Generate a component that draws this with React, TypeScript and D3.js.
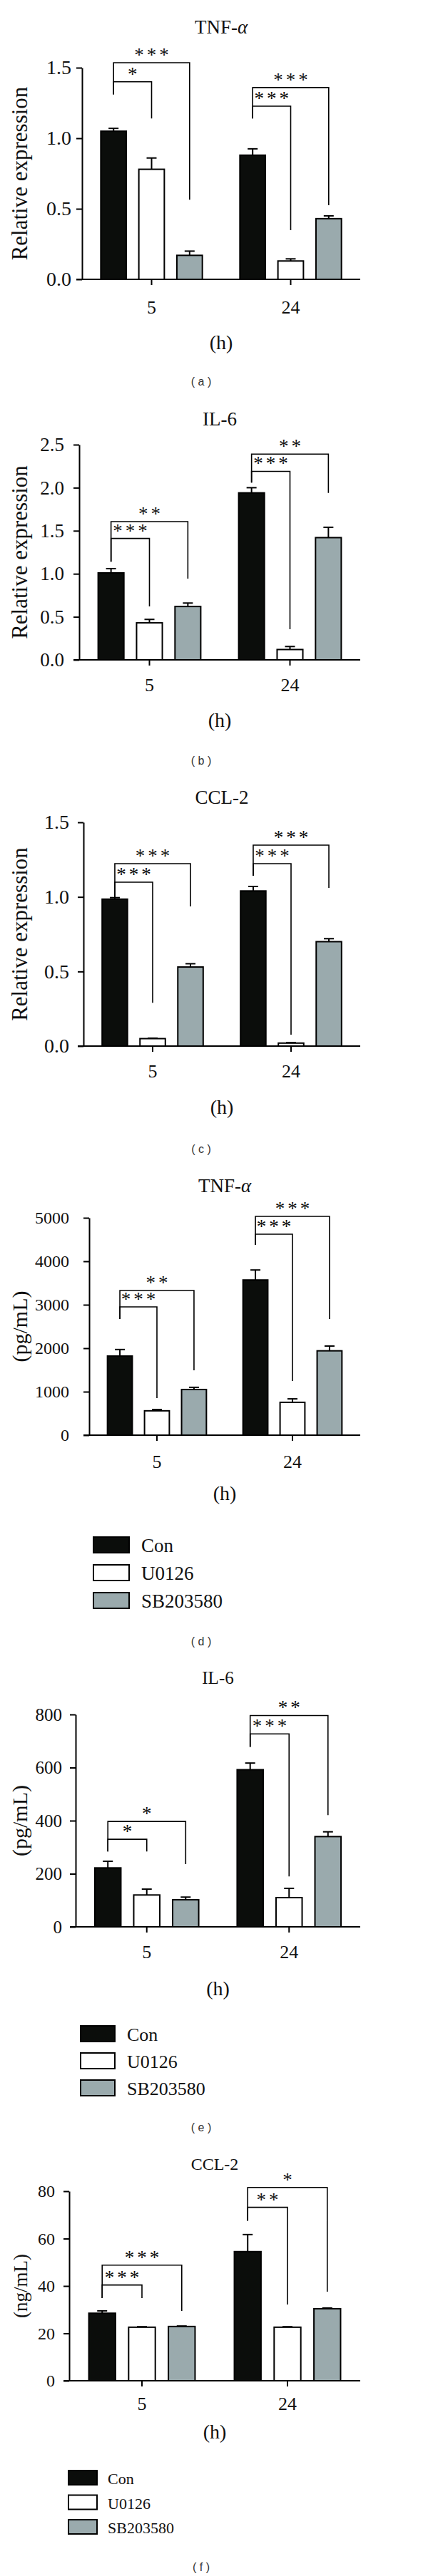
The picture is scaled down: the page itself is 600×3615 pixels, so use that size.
import React, { useEffect, useRef } from "react";
import * as d3 from "d3";

// shared categories
const groups = ["5", "24"];
const seriesNames = ["Con", "U0126", "SB203580"];
const seriesFill = ["#0b0d0b", "#ffffff", "#9aaaad"];

// (a) TNF-α relative expression, rows = 5 h, 24 h; cols = Con, U0126, SB203580
const tnfRelMean = [[1.05, 0.78, 0.17], [0.88, 0.13, 0.43]];
const tnfRelErr = [[0.02, 0.08, 0.03], [0.045, 0.015, 0.02]];
const tnfRelSig = [
  { group: 0, to: 1, top: 1.4, left: 1.31, right: 1.14, label: "*" },
  { group: 0, to: 2, top: 1.535, left: 1.31, right: 0.565, label: "***" },
  { group: 1, to: 1, top: 1.227, left: 1.14, right: 0.348, label: "***" },
  { group: 1, to: 2, top: 1.359, left: 1.14, right: 0.525, label: "***" },
];

// (b) IL-6 relative expression
const il6RelMean = [[1.01, 0.43, 0.62], [1.94, 0.12, 1.42]];
const il6RelErr = [[0.05, 0.04, 0.04], [0.06, 0.035, 0.12]];
const il6RelSig = [
  { group: 0, to: 1, top: 1.41, left: 1.14, right: 0.62, label: "***" },
  { group: 0, to: 2, top: 1.606, left: 1.14, right: 0.944, label: "**" },
  { group: 1, to: 1, top: 2.19, left: 2.06, right: 0.356, label: "***" },
  { group: 1, to: 2, top: 2.39, left: 2.06, right: 1.94, label: "**" },
];

// (c) CCL-2 relative expression
const ccl2RelMean = [[0.985, 0.05, 0.53], [1.04, 0.02, 0.7]];
const ccl2RelErr = [[0.01, 0.003, 0.022], [0.03, 0.003, 0.02]];
const ccl2RelSig = [
  { group: 0, to: 1, top: 1.099, left: 0.998, right: 0.29, label: "***" },
  { group: 0, to: 2, top: 1.223, left: 0.998, right: 0.936, label: "***" },
  { group: 1, to: 1, top: 1.223, left: 1.142, right: 0.076, label: "***" },
  { group: 1, to: 2, top: 1.347, left: 1.142, right: 1.06, label: "***" },
];

// (d) TNF-α protein, pg/mL
const tnfProtMean = [[1820, 560, 1050], [3570, 755, 1940]];
const tnfProtErr = [[150, 30, 50], [230, 80, 110]];
const tnfProtSig = [
  { group: 0, to: 1, top: 2950, left: 2672, right: 852, label: "***" },
  { group: 0, to: 2, top: 3327, left: 2672, right: 1492, label: "**" },
  { group: 1, to: 1, top: 4622, left: 4376, right: 1246, label: "***" },
  { group: 1, to: 2, top: 5032, left: 4376, right: 2672, label: "***" },
];

// (e) IL-6 protein, pg/mL
const il6ProtMean = [[222, 120, 102], [592, 110, 340]];
const il6ProtErr = [[25, 22, 10], [25, 35, 18]];
const il6ProtSig = [
  { group: 0, to: 1, top: 330, left: 284, right: 284, label: "*" },
  { group: 0, to: 2, top: 397, left: 284, right: 236, label: "*" },
  { group: 1, to: 1, top: 727, left: 678, right: 190, label: "***" },
  { group: 1, to: 2, top: 796, left: 678, right: 421, label: "**" },
];

// (f) CCL-2 protein, ng/mL
const ccl2ProtMean = [[28.5, 22.6, 22.9], [54.5, 22.6, 30.4]];
const ccl2ProtErr = [[1, 0.2, 0.2], [7.2, 0.2, 0.3]];
const ccl2ProtSig = [
  { group: 0, to: 1, top: 40.4, left: 34.9, right: 34.9, label: "***" },
  { group: 0, to: 2, top: 48.8, left: 34.9, right: 29.5, label: "***" },
  { group: 1, to: 1, top: 73.2, left: 67.5, right: 32.2, label: "**" },
  { group: 1, to: 2, top: 81.6, left: 67.5, right: 37.6, label: "*" },
];

const relTicks = [0, 0.5, 1, 1.5];
const il6RelTicks = [0, 0.5, 1, 1.5, 2, 2.5];
const tnfProtTicks = [0, 1000, 2000, 3000, 4000, 5000];
const il6ProtTicks = [0, 200, 400, 600, 800];
const ccl2ProtTicks = [0, 20, 40, 60, 80];

const serif = "'Liberation Serif', 'Times New Roman', serif";
const sans = "'Liberation Sans', Arial, sans-serif";

export default function App() {
  const ref = useRef<SVGSVGElement>(null);

  useEffect(() => {
    draw();
  }, []);

  let draw = () => {
    document.body.style.margin = "0";
    let svg = d3.select(ref.current);
    svg.selectAll("*").remove();
    svg.append("rect").attr("width", 600).attr("height", 3615).attr("fill", "#fff");

    let f1 = d3.format(".1f");
    let f0 = d3.format("d");

    let panels = [
      { tag: "a", title: "TNF-", alpha: true, unit: "Relative expression", mean: tnfRelMean, err: tnfRelErr, sig: tnfRelSig, ticks: relTicks, fmt: f1,
        yTop: 95, yBottom: 392, axisX: 115, titleY: 47, titleSize: 27, tickSize: 28, tickPad: 15, unitSize: 31, xLabelY: 440, hY: 490, tagY: 535, legend: null },
      { tag: "b", title: "IL-6", alpha: false, unit: "Relative expression", mean: il6RelMean, err: il6RelErr, sig: il6RelSig, ticks: il6RelTicks, fmt: f1,
        yTop: 624, yBottom: 926, axisX: 111, titleY: 597, titleSize: 27, tickSize: 27, tickPad: 21, unitSize: 31, xLabelY: 970, hY: 1020, tagY: 1067, legend: null },
      { tag: "c", title: "CCL-2", alpha: false, unit: "Relative expression", mean: ccl2RelMean, err: ccl2RelErr, sig: ccl2RelSig, ticks: relTicks, fmt: f1,
        yTop: 1154, yBottom: 1468, axisX: 117, titleY: 1128, titleSize: 27, tickSize: 28, tickPad: 20, unitSize: 31, xLabelY: 1512, hY: 1563, tagY: 1612, legend: null },
      { tag: "d", title: "TNF-", alpha: true, unit: "(pg/mL)", mean: tnfProtMean, err: tnfProtErr, sig: tnfProtSig, ticks: tnfProtTicks, fmt: f0,
        yTop: 1709, yBottom: 2014, axisX: 125, titleY: 1673, titleSize: 27, tickSize: 24, tickPad: 28, unitSize: 30, xLabelY: 2060, hY: 2105, tagY: 2303,
        legend: { x: 131, y: 2157, w: 50, h: 22, pitch: 39, size: 27, dx: 67 } },
      { tag: "e", title: "IL-6", alpha: false, unit: "(pg/mL)", mean: il6ProtMean, err: il6ProtErr, sig: il6ProtSig, ticks: il6ProtTicks, fmt: f0,
        yTop: 2406, yBottom: 2704, axisX: 106, titleY: 2363, titleSize: 25, tickSize: 25, tickPad: 19, unitSize: 30, xLabelY: 2748, hY: 2800, tagY: 2985,
        legend: { x: 113, y: 2843, w: 48, h: 22, pitch: 38, size: 26, dx: 65 } },
      { tag: "f", title: "CCL-2", alpha: false, unit: "(ng/mL)", mean: ccl2ProtMean, err: ccl2ProtErr, sig: ccl2ProtSig, ticks: ccl2ProtTicks, fmt: f0,
        yTop: 3075, yBottom: 3341, axisX: 97, titleY: 3045, titleSize: 24, tickSize: 24, tickPad: 20, unitSize: 27, xLabelY: 3382, hY: 3422, tagY: 3602,
        legend: { x: 96, y: 3467, w: 40, h: 20, pitch: 34.5, size: 22, dx: 55 } },
    ];

    let xRight = 505;

    panels.forEach((p) => {
      let g = svg.append("g");
      let cx = (p.axisX + xRight) / 2;

      let x0 = d3.scaleBand().domain(groups).range([p.axisX, xRight]).paddingInner(0.27).paddingOuter(0.135);
      let x1 = d3.scaleBand().domain(seriesNames).range([0, x0.bandwidth()]).paddingInner(0.33).paddingOuter(0);
      let y = d3.scaleLinear().domain([0, p.ticks[p.ticks.length - 1]]).range([p.yBottom, p.yTop]);
      let barX = (gi: number, si: number) => (x0(groups[gi]) as number) + (x1(seriesNames[si]) as number);
      let barC = (gi: number, si: number) => barX(gi, si) + x1.bandwidth() / 2;

      // title
      let t = g.append("text").attr("x", cx).attr("y", p.titleY).attr("text-anchor", "middle")
        .attr("font-family", serif).attr("font-size", p.titleSize).attr("fill", "#111").text(p.title);
      if (p.alpha) t.append("tspan").attr("font-style", "italic").text("α");

      let rows = groups.flatMap((grp, gi) =>
        seriesNames.map((s, si) => ({ gi, si, v: p.mean[gi][si], e: p.err[gi][si] }))
      );

      // error bars
      let eb = g.append("g").attr("stroke", "#000").attr("stroke-width", 2);
      rows.forEach((d) => {
        let c = barC(d.gi, d.si);
        eb.append("line").attr("x1", c).attr("x2", c).attr("y1", y(d.v)).attr("y2", y(d.v + d.e));
        eb.append("line").attr("x1", c - 7).attr("x2", c + 7).attr("y1", y(d.v + d.e)).attr("y2", y(d.v + d.e));
      });

      // bars
      g.append("g")
        .selectAll("rect")
        .data(rows)
        .join("rect")
        .attr("x", (d) => barX(d.gi, d.si))
        .attr("y", (d) => y(d.v))
        .attr("width", x1.bandwidth())
        .attr("height", (d) => y(0) - y(d.v))
        .attr("fill", (d) => seriesFill[d.si])
        .attr("stroke", "#000")
        .attr("stroke-width", 2);

      // y axis
      let ya = g.append("g")
        .attr("transform", `translate(${p.axisX},0)`)
        .call(d3.axisLeft(y).tickValues(p.ticks).tickFormat(p.fmt as any).tickSize(8).tickSizeOuter(0).tickPadding(p.tickPad - 8));
      ya.selectAll("path,line").attr("stroke", "#000").attr("stroke-width", 2);
      ya.selectAll("text").attr("font-family", serif).attr("font-size", p.tickSize).attr("fill", "#111");

      // x axis
      g.append("line").attr("x1", p.axisX - 8).attr("x2", xRight).attr("y1", p.yBottom).attr("y2", p.yBottom)
        .attr("stroke", "#000").attr("stroke-width", 2);
      groups.forEach((grp) => {
        let c = (x0(grp) as number) + x0.bandwidth() / 2;
        g.append("line").attr("x1", c).attr("x2", c).attr("y1", p.yBottom).attr("y2", p.yBottom + 8)
          .attr("stroke", "#000").attr("stroke-width", 2);
        g.append("text").attr("x", c).attr("y", p.xLabelY).attr("text-anchor", "middle")
          .attr("font-family", serif).attr("font-size", 26).attr("fill", "#111").text(grp);
      });
      g.append("text").attr("x", cx).attr("y", p.hY).attr("text-anchor", "middle")
        .attr("font-family", serif).attr("font-size", 28).attr("fill", "#111").text("(h)");

      // y label
      g.append("text")
        .attr("transform", `translate(38,${(p.yTop + p.yBottom) / 2}) rotate(-90)`)
        .attr("text-anchor", "middle")
        .attr("font-family", serif).attr("font-size", p.unitSize).attr("fill", "#111").text(p.unit);

      // significance brackets
      p.sig.forEach((s) => {
        let lx = barC(s.group, 0);
        let rx = barC(s.group, s.to);
        g.append("path")
          .attr("d", `M${lx},${y(s.left)}V${y(s.top)}H${rx}V${y(s.right)}`)
          .attr("fill", "none").attr("stroke", "#000").attr("stroke-width", 1.6);
        g.append("text").attr("x", (lx + rx) / 2 + 2).attr("y", y(s.top) - 2).attr("text-anchor", "middle")
          .attr("font-family", serif).attr("font-size", 27).attr("letter-spacing", 4).attr("fill", "#111").text(s.label);
      });

      // legend
      if (p.legend) {
        let L = p.legend;
        seriesNames.forEach((s, i) => {
          g.append("rect").attr("x", L.x).attr("y", L.y + i * L.pitch).attr("width", L.w).attr("height", L.h)
            .attr("fill", seriesFill[i]).attr("stroke", "#000").attr("stroke-width", 2);
          g.append("text").attr("x", L.x + L.dx).attr("y", L.y + i * L.pitch + L.h - 1)
            .attr("font-family", serif).attr("font-size", L.size).attr("fill", "#111").text(s);
        });
      }

      // panel tag
      g.append("text").attr("x", 282).attr("y", p.tagY).attr("dy", "0.35em").attr("text-anchor", "middle")
        .attr("font-family", sans).attr("font-size", 16).attr("fill", "#333").text(`( ${p.tag} )`);
    });
  };

  return <svg ref={ref} width={600} height={3615} style={{ display: "block" }}></svg>;
}
